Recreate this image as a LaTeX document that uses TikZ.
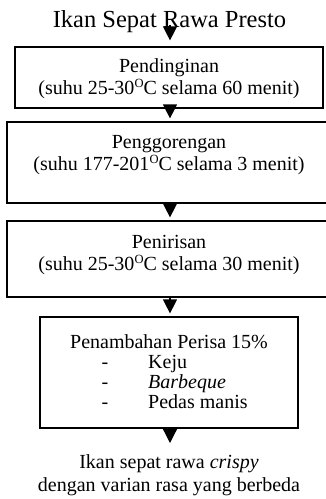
\documentclass[tikz,border=0pt]{standalone}
\usepackage{fontspec}
\setmainfont{Liberation Serif}
\usetikzlibrary{arrows.meta}
\newcommand{\degsup}{\raisebox{0.32em}{\fontsize{12.5pt}{12.5pt}\selectfont O}}
\begin{document}
\begin{tikzpicture}[x=1pt,y=1pt,
  box/.style={draw, line width=1.2pt, inner sep=0pt},
  txt/.style={font=\fontsize{20pt}{20pt}\selectfont, inner sep=0pt, anchor=base},
  ttl/.style={font=\fontsize{24.5pt}{25pt}\selectfont, inner sep=0pt, anchor=base},
  arr/.style={line width=1.2pt, shorten >=3pt, -{Triangle[width=14pt,length=14pt]}}]
\useasboundingbox (0,0) rectangle (326,-499);
\clip (0,0) rectangle (326,-499);
% boxes
\node[box, minimum width=308pt, minimum height=61pt] (b1) at (169,-77.5) {};
\node[box, minimum width=324pt, minimum height=81pt] (b2) at (169,-162.5) {};
\node[box, minimum width=324pt, minimum height=76pt] (b3) at (169,-259) {};
\node[box, minimum width=258pt, minimum height=111pt] (b4) at (169,-372.5) {};
% title
\node[ttl] (title) at (169.5,-27) {Ikan Sepat Rawa Presto};
% box texts
\node[txt] (t1a) at (169,-72.5) {Pendinginan};
\node[txt] (t1b) at (169,-94) {(suhu 25-30\degsup C selama 60 menit)};
\node[txt] (t2a) at (169,-148.5) {Penggorengan};
\node[txt] (t2b) at (169,-170) {(suhu 177-201\degsup C selama 3 menit)};
\node[txt] (t3a) at (169,-248.5) {Penirisan};
\node[txt] (t3b) at (169,-270) {(suhu 25-30\degsup C selama 30 menit)};
\node[txt] (t4a) at (169,-348.5) {Penambahan Perisa 15\%};
\node[txt] (d1) at (105,-368.5) {-};
\node[txt] (d2) at (105,-388.5) {-};
\node[txt] (d3) at (105,-408.5) {-};
\node[txt, anchor=base west] (i1) at (148,-368.5) {Keju};
\node[txt, anchor=base west] (i2) at (148,-388.5) {\textit{Barbeque}};
\node[txt, anchor=base west] (i3) at (148,-408.5) {Pedas manis};
% result text
\node[txt] (r1) at (169,-468.5) {Ikan sepat rawa \textit{crispy}};
\node[txt] (r2) at (169,-491.5) {dengan varian rasa yang berbeda};
% arrows
\coordinate (ax) at (170,0);
\coordinate (a0) at (170,-25);
\coordinate (a5) at (170,-443);
\draw[arr, shorten >=6pt] (a0) -- (b1.north -| ax);
\draw[arr] (b1.south -| ax) -- (b2.north -| ax);
\draw[arr] (b2.south -| ax) -- (b3.north -| ax);
\draw[arr] (b3.south -| ax) -- (b4.north -| ax);
\draw[arr, shorten >=0pt] (b4.south -| ax) -- (a5);
\end{tikzpicture}
\end{document}
